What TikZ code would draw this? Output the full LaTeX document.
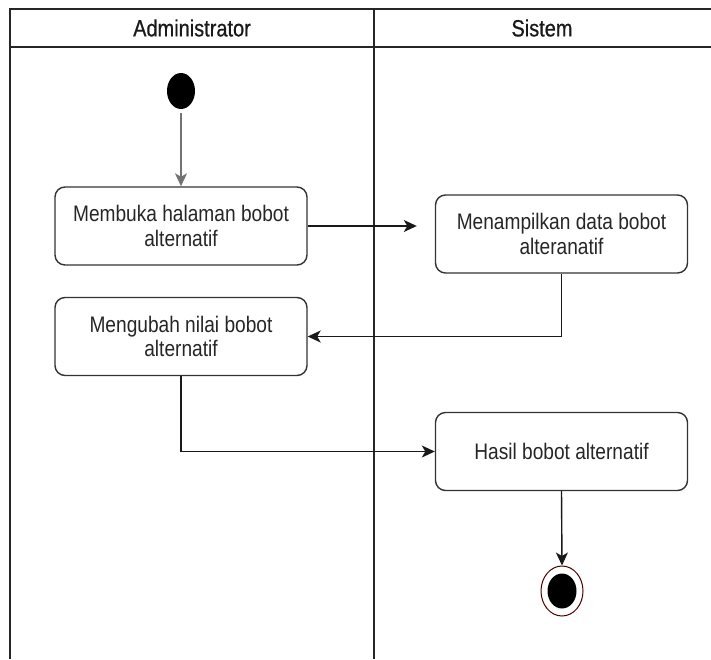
\documentclass[tikz,border=0pt]{standalone}
\usepackage{fontspec}
\setmainfont[FakeStretch=0.85]{Liberation Sans}
\newfontfamily\lanefont[FakeStretch=0.85,FakeBold=0.6]{Liberation Sans}
\usetikzlibrary{arrows.meta,shapes.geometric}

\begin{document}
\begin{tikzpicture}[x=1pt,y=-1pt,
  lane/.style={draw=black!85, line width=1.5pt},
  lanelabel/.style={font=\lanefont\fontsize{23.5}{26}\selectfont, text=black!90, inner sep=0},
  act/.style={draw=black!80, line width=1.4pt, rounded corners=10pt,
    minimum width=252pt, minimum height=78pt, align=center, inner sep=0,
    font=\fontsize{22.5}{24.5}\selectfont, text=black!85},
  flow/.style={draw=black!90, line width=1.4pt,
    -{Stealth[length=13pt,width=12pt,inset=3.5pt]}},
  startnode/.style={ellipse, fill=black, minimum width=28pt, minimum height=36pt, inner sep=0},
  endnode/.style={ellipse, draw=red!30!black, line width=1pt, minimum width=42pt, minimum height=50pt, inner sep=0}
]
\useasboundingbox (0,0) rectangle (711,659);

% swimlane frame
\draw[lane] (10,659) -- (10,9) -- (711,9);
\draw[lane] (10,47) -- (711,47);
\draw[lane] (374,9) -- (374,659);
\node[lanelabel] (hadmin) at (192,28) {Administrator};
\node[lanelabel] (hsistem) at (542,28) {Sistem};

% activities
\node[startnode] (start) at (181,91) {};
\node[act] (a1) at (181,226) {Membuka halaman bobot\\alternatif};
\node[act] (a2) at (561.5,234) {Menampilkan data bobot\\alteranatif};
\node[act] (a3) at (181,336.5) {Mengubah nilai bobot\\alternatif};
\node[act] (a4) at (561.5,451.5) {Hasil bobot alternatif};
\node[endnode] (end) at (562,591) {};
\fill (end.center) ellipse [x radius=14.5pt, y radius=17.5pt];

% control flow
\draw[flow, draw=black!55, shorten <=4pt] (start) -- (a1);
\draw[flow, shorten >=18pt] (a1.east) -- (a1.east -| a2.west);
\draw[flow] (a2.south) |- (a3.east);
\draw[flow] (a3.south) |- (a4.west);
\draw[flow] (a4.south) -- (end.north);
\end{tikzpicture}
\end{document}
